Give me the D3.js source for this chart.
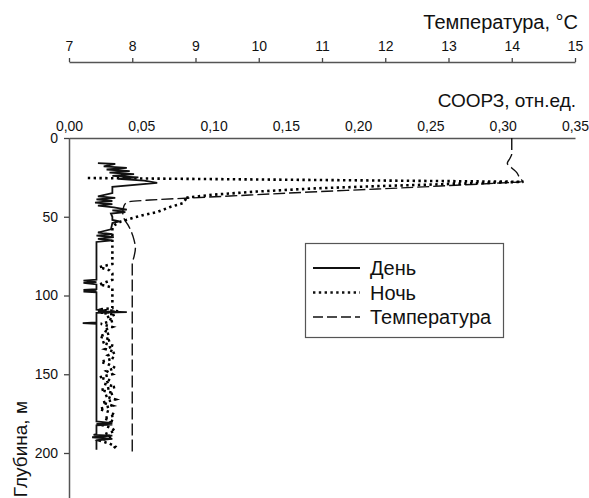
<!DOCTYPE html>
<html>
<head>
<meta charset="utf-8">
<script src="https://cdn.jsdelivr.net/npm/d3@7"></script>
<style>
  body { margin: 0; background: #fff; }
  text { font-family: "Liberation Sans", Arial, sans-serif; fill: #111; }
</style>
</head>
<body>
<div id="chart"></div>
<script>
// depth (m) for each series
var dayDepth = [16, 16.5, 18, 19, 20, 21, 22, 23, 24, 25, 26, 27, 28.5, 31, 35, 37, 38, 39, 40, 41, 42, 43, 44, 45.5, 46, 47, 48, 50, 52, 53, 54, 58, 60, 61, 62, 63, 64, 65, 66,
  90, 90.5, 91.5, 92, 93, 96, 96.5, 97, 97.5, 98, 109, 109.5, 110, 110.5, 111, 117, 117.5, 118,
  180, 181, 181.5, 182, 182.5, 188, 188.5, 189, 190, 191, 192, 198];
var dayValue = [0.020, 0.032, 0.024, 0.040, 0.026, 0.042, 0.028, 0.045, 0.030, 0.048, 0.034, 0.052, 0.061, 0.030, 0.030, 0.020, 0.032, 0.019, 0.030, 0.018, 0.030, 0.020, 0.031, 0.040, 0.030, 0.039, 0.029, 0.030, 0.030, 0.035, 0.030, 0.029, 0.020, 0.030, 0.019, 0.031, 0.020, 0.030, 0.019,
  0.019, 0.010, 0.019, 0.010, 0.019, 0.019, 0.010, 0.019, 0.010, 0.019, 0.019, 0.025, 0.020, 0.040, 0.019, 0.019, 0.0095, 0.019,
  0.019, 0.030, 0.019, 0.030, 0.019, 0.019, 0.017, 0.030, 0.016, 0.030, 0.019, 0.019];

var nightDepth = [25.4, 27.8, 28.5, 30.5, 32, 34, 36, 38, 38.5, 41.3, 43.8, 47, 49, 50.8, 53, 55, 57,
  80, 82, 84, 86, 88, 90, 93, 94, 95, 98, 104, 108, 109, 110, 111, 112, 114, 116, 118, 120, 122, 124, 126, 128, 130,
  132, 134, 136, 138, 140, 142, 144, 146, 148, 150, 152, 154, 156, 158, 160, 162, 164, 166, 168, 170,
  172, 174, 176, 178, 180, 182, 184, 186, 188, 190, 192, 194, 196, 198];
var nightValue = [0.013, 0.3145, 0.29, 0.215, 0.17, 0.13, 0.10, 0.08, 0.081, 0.079, 0.070, 0.061, 0.051, 0.044, 0.036, 0.032, 0.030,
  0.030, 0.021, 0.028, 0.030, 0.030, 0.030, 0.021, 0.026, 0.030, 0.030, 0.030, 0.030, 0.020, 0.034, 0.022, 0.032, 0.026, 0.031, 0.022, 0.030, 0.024, 0.028, 0.021, 0.029, 0.023,
  0.031, 0.025, 0.032, 0.027, 0.031, 0.022, 0.028, 0.032, 0.026, 0.030, 0.021, 0.029, 0.024, 0.032, 0.022, 0.031, 0.025, 0.032, 0.023, 0.030,
  0.021, 0.028, 0.032, 0.024, 0.031, 0.022, 0.029, 0.032, 0.025, 0.030, 0.021, 0.028, 0.032, 0.030];

var tempDepth = [0, 5, 10, 13, 16, 19, 22, 25, 27.7, 28.6, 30.5, 32.4, 34.3, 36.2, 38.1, 39.4, 40.6, 43, 47, 52, 55, 60, 65, 70, 75, 80, 90, 120, 150, 180, 200];
var tempValue = [14.0, 14.0, 14.0, 13.97, 13.93, 14.0, 14.08, 14.12, 14.17, 13.8, 12.87, 11.87, 10.81, 9.86, 8.91, 8.28, 7.93, 7.87, 7.85, 7.88, 7.93, 7.99, 8.03, 8.05, 8.03, 8.0, 8.0, 8.0, 8.0, 8.0, 8.0];

var tempTicks = [7, 8, 9, 10, 11, 12, 13, 14, 15];
var sooTicks = [0, 0.05, 0.10, 0.15, 0.20, 0.25, 0.30, 0.35];
var depthTicks = [0, 50, 100, 150, 200];
var legendLabels = ["День", "Ночь", "Температура"];

var margin = {top: 138, left: 69, right: 14, bottom: 0};
var width = 589 - margin.left - margin.right;
var height = 498 - margin.top - margin.bottom + 4;

var svg = d3.select("#chart").append("svg")
  .attr("width", 589)
  .attr("height", 498);

var g = svg.append("g")
  .attr("transform", "translate(" + margin.left + "," + margin.top + ")");

var yScale = d3.scaleLinear().domain([0, 200]).range([0, 315]);
var xSoo = d3.scaleLinear().domain([0, 0.35]).range([0, width]);
var xTemp = d3.scaleLinear().domain([7, 15]).range([0, width]);

var comma = function(d) { return d3.format(".2f")(d).replace(".", ","); };

// СООРЗ axis (top of plot)
var sooAxis = g.append("g")
  .attr("class", "axis")
  .call(d3.axisTop(xSoo).tickValues(sooTicks).tickSize(0).tickPadding(7).tickFormat(comma));

// temperature axis, higher up
var tempAxis = g.append("g")
  .attr("class", "axis")
  .attr("transform", "translate(0," + (62 - margin.top) + ")")
  .call(d3.axisTop(xTemp).tickValues(tempTicks).tickSizeInner(4).tickSizeOuter(0).tickPadding(7).tickFormat(d3.format("d")));

// depth axis
var depthAxis = g.append("g")
  .attr("class", "axis")
  .call(d3.axisLeft(yScale).tickValues(depthTicks).tickSizeInner(5).tickSizeOuter(0).tickPadding(6));
depthAxis.select(".domain").attr("d", "M0.5,0V" + height);

svg.selectAll(".axis .domain").attr("stroke", "#555").attr("stroke-width", 1.5);
svg.selectAll(".axis line").attr("stroke", "#444").attr("stroke-width", 1.3);
svg.selectAll(".axis text")
  .style("font-family", "'Liberation Sans', Arial, sans-serif")
  .style("font-size", "14px")
  .attr("fill", "#111");

// axis titles
svg.append("text")
  .attr("x", 578).attr("y", 29)
  .attr("text-anchor", "end")
  .style("font-size", "20px")
  .text("Температура, °C");

svg.append("text")
  .attr("x", 576).attr("y", 107)
  .attr("text-anchor", "end")
  .style("font-size", "19px")
  .text("СООРЗ, отн.ед.");

svg.append("text")
  .attr("transform", "translate(27,401) rotate(-90)")
  .attr("text-anchor", "end")
  .style("font-size", "19px")
  .text("Глубина, м");

// lines
var sooLine = d3.line()
  .x(function(d) { return xSoo(d[1]); })
  .y(function(d) { return yScale(d[0]); });

var tempLine = d3.line()
  .x(function(d) { return xTemp(d[1]); })
  .y(function(d) { return yScale(d[0]); })
  .curve(d3.curveMonotoneY);

var dayData = dayDepth.map(function(d, i) { return [d, dayValue[i]]; });
var nightData = nightDepth.map(function(d, i) { return [d, nightValue[i]]; });
var tempData = tempDepth.map(function(d, i) { return [d, tempValue[i]]; });

g.append("path")
  .datum(tempData)
  .attr("fill", "none")
  .attr("stroke", "#111")
  .attr("stroke-width", 1.4)
  .attr("stroke-dasharray", "12,4")
  .attr("d", tempLine);

g.append("path")
  .datum(nightData)
  .attr("fill", "none")
  .attr("stroke", "#000")
  .attr("stroke-width", 2.6)
  .attr("stroke-dasharray", "2.4,3.4")
  .attr("d", sooLine);

g.append("path")
  .datum(dayData)
  .attr("fill", "none")
  .attr("stroke", "#111")
  .attr("stroke-width", 1.8)
  .attr("d", sooLine);

// legend
var legend = svg.append("g").attr("transform", "translate(305,243)");
legend.append("rect")
  .attr("x", 0.5).attr("y", 0.5)
  .attr("width", 198).attr("height", 94)
  .attr("fill", "#fff")
  .attr("stroke", "#555")
  .attr("stroke-width", 1.2);

var dashes = [null, "2.4,3.4", "10,4"];
var widths = [1.8, 2.6, 1.4];
legendLabels.forEach(function(label, i) {
  var y = 25 + i * 24.5;
  legend.append("line")
    .attr("x1", 8).attr("x2", 55)
    .attr("y1", y).attr("y2", y)
    .attr("stroke", "#111")
    .attr("stroke-width", widths[i])
    .attr("stroke-dasharray", dashes[i]);
  legend.append("text")
    .attr("x", 65).attr("y", y + 7)
    .style("font-size", "20px")
    .text(label);
});
</script>
</body>
</html>
